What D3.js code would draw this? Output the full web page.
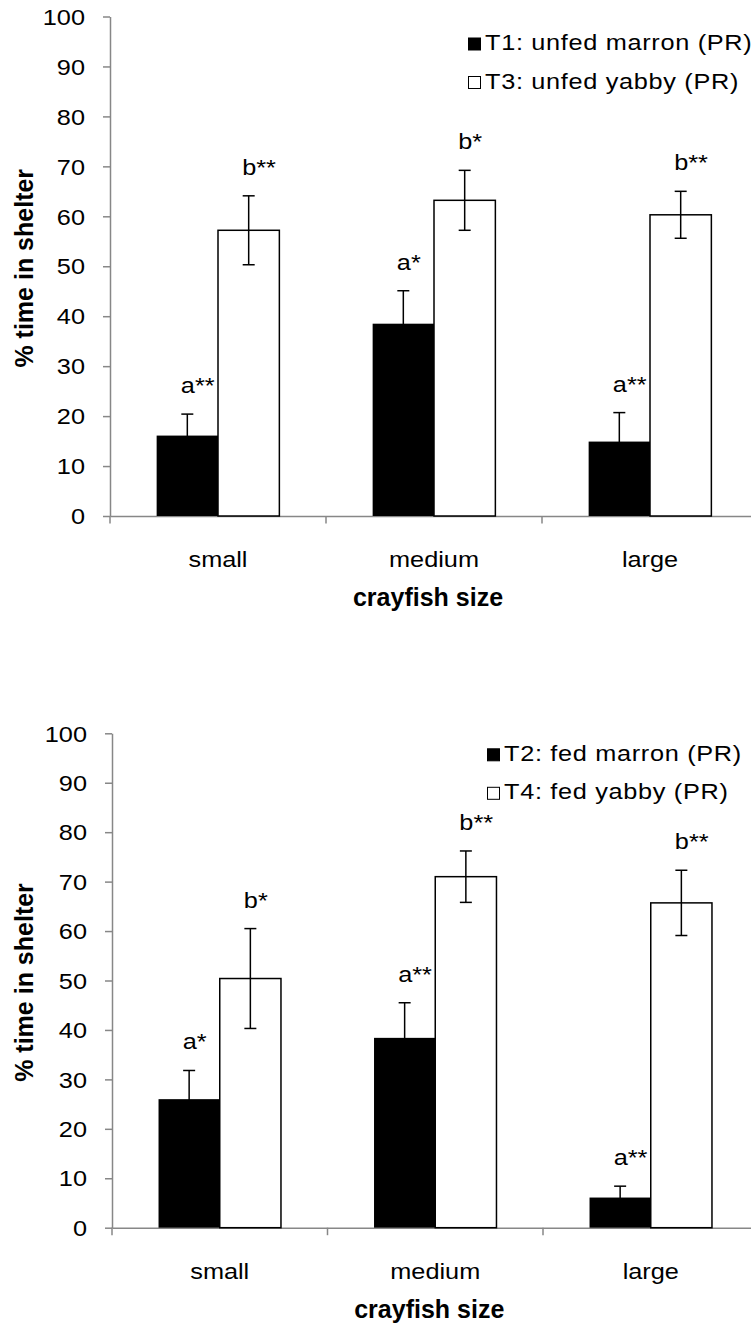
<!DOCTYPE html>
<html>
<head>
<meta charset="utf-8">
<script src="https://cdn.jsdelivr.net/npm/d3@7"></script>
<style>
  html, body { margin: 0; padding: 0; background: #fff; }
  svg { display: block; font-family: "Liberation Sans", Arial, sans-serif; }
</style>
</head>
<body>
<svg id="fig" width="751" height="1323"></svg>
<script>
// ---- data ----
const categories = ["small", "medium", "large"];
const yTicks = [0, 10, 20, 30, 40, 50, 60, 70, 80, 90, 100];

// unfed treatments
const unfedNames = ["T1: unfed marron (PR)", "T3: unfed yabby (PR)"];
const unfedMarron   = [16.1, 38.5, 14.9];
const unfedMarronSE = [4.3, 6.6, 5.8];
const unfedMarronSig = ["a**", "a*", "a**"];
const unfedYabby    = [57.2, 63.2, 60.3];
const unfedYabbySE  = [6.9, 6.0, 4.7];
const unfedYabbySig = ["b**", "b*", "b**"];

// fed treatments
const fedNames = ["T2: fed marron (PR)", "T4: fed yabby (PR)"];
const fedMarron   = [26.0, 38.4, 6.1];
const fedMarronSE = [5.8, 7.1, 2.3];
const fedMarronSig = ["a*", "a**", "a**"];
const fedYabby    = [50.4, 71.0, 65.7];
const fedYabbySE  = [10.1, 5.2, 6.6];
const fedYabbySig = ["b*", "b**", "b**"];

const yTitle = "% time in shelter";
const xTitle = "crayfish size";

// ---- layout ----
const SX = 1.15;               // horizontal stretch of regular text
const FONT = 22;
const AXIS_COLOR = "#878787";

const panels = [
  {
    top: 16.5, bottom: 516, left: 110, right: 758,
    legendX: 468, legendY: 37.5,
    names: unfedNames,
    series: [
      { values: unfedMarron, se: unfedMarronSE, sig: unfedMarronSig, fill: "#000" },
      { values: unfedYabby,  se: unfedYabbySE,  sig: unfedYabbySig,  fill: "#fff" }
    ]
  },
  {
    top: 733.3, bottom: 1227.7, left: 112, right: 758.5,
    legendX: 487, legendY: 748.3,
    names: fedNames,
    series: [
      { values: fedMarron, se: fedMarronSE, sig: fedMarronSig, fill: "#000" },
      { values: fedYabby,  se: fedYabbySE,  sig: fedYabbySig,  fill: "#fff" }
    ]
  }
];

const svg = d3.select("#fig");

function stretchedText(parent, x, y, str, anchor) {
  return parent.append("text")
    .attr("transform", `translate(${x},${y}) scale(${SX},1)`)
    .attr("text-anchor", anchor || "start")
    .attr("font-size", FONT)
    .attr("fill", "#000")
    .text(str);
}

panels.forEach(p => {
  const g = svg.append("g");

  const y = d3.scaleLinear().domain([0, 100]).range([p.bottom, p.top]);
  const x0 = d3.scaleBand().domain(categories).range([p.left, p.right]);
  const x1 = d3.scaleBand().domain([0, 1]).range([0, x0.bandwidth()])
    .paddingInner(0).paddingOuter(0.76);

  // y axis
  const yAxis = g.append("g")
    .attr("transform", `translate(${p.left},0)`)
    .call(d3.axisLeft(y).tickValues(yTicks).tickFormat(d3.format("d")).tickSize(7).tickSizeOuter(0));
  yAxis.select(".domain").attr("stroke", AXIS_COLOR).attr("stroke-width", 1.5);
  yAxis.selectAll(".tick line").attr("stroke", AXIS_COLOR).attr("stroke-width", 1.5);
  yAxis.selectAll(".tick text")
    .attr("x", null).attr("dy", "0.35em")
    .attr("transform", `translate(-25,0) scale(${SX},1)`)
    .attr("font-size", FONT).attr("font-family", null).attr("fill", "#000");

  // x axis: labels at category centres, ticks at category boundaries
  const xAxis = g.append("g")
    .attr("transform", `translate(0,${p.bottom})`)
    .call(d3.axisBottom(x0).tickSize(0).tickSizeOuter(0));
  xAxis.select(".domain").attr("stroke", AXIS_COLOR).attr("stroke-width", 1.5);
  xAxis.selectAll(".tick line").remove();
  xAxis.selectAll(".tick text")
    .attr("y", null).attr("dy", null)
    .attr("transform", `translate(0,51) scale(${SX},1)`)
    .attr("font-size", FONT).attr("font-family", null).attr("fill", "#000");
  const bounds = categories.map(c => x0(c)).concat([x0.range()[1]]);
  xAxis.selectAll("line.bound").data(bounds).join("line")
    .attr("class", "bound")
    .attr("x1", d => d).attr("x2", d => d)
    .attr("y1", 0).attr("y2", 7.5)
    .attr("stroke", AXIS_COLOR).attr("stroke-width", 1.5);

  // bars
  p.series.forEach((s, i) => {
    const bx = c => x0(c) + x1(i);
    g.append("g").selectAll("rect").data(categories).join("rect")
      .attr("x", c => bx(c))
      .attr("y", (c, k) => y(s.values[k]))
      .attr("width", x1.bandwidth())
      .attr("height", (c, k) => y(0) - y(s.values[k]))
      .attr("fill", s.fill)
      .attr("stroke", "#000")
      .attr("stroke-width", s.fill === "#000" ? 0 : 1.5);

    // error bars
    const eb = g.append("g").attr("stroke", "#000").attr("stroke-width", 1.5);
    categories.forEach((c, k) => {
      const cx = bx(c) + x1.bandwidth() / 2;
      const hi = y(s.values[k] + s.se[k]);
      const lo = y(s.values[k] - s.se[k]);
      eb.append("line").attr("x1", cx).attr("x2", cx).attr("y1", hi).attr("y2", lo);
      eb.append("line").attr("x1", cx - 6).attr("x2", cx + 6).attr("y1", hi).attr("y2", hi);
      eb.append("line").attr("x1", cx - 6).attr("x2", cx + 6).attr("y1", lo).attr("y2", lo);
      // significance letter
      stretchedText(g, cx - 6.5, hi - 21, s.sig[k], "start");
    });
  });

  // axis titles
  g.append("text")
    .attr("transform", `translate(33,${(p.top + p.bottom) / 2 + 2}) rotate(-90)`)
    .attr("text-anchor", "middle")
    .attr("font-size", 25).attr("font-weight", "bold")
    .text(yTitle);
  g.append("text")
    .attr("x", (p.left + p.right) / 2 - 6)
    .attr("y", p.bottom + 90)
    .attr("text-anchor", "middle")
    .attr("font-size", 25).attr("font-weight", "bold")
    .text(xTitle);

  // legend
  const lg = g.append("g").attr("transform", `translate(${p.legendX},${p.legendY})`);
  p.series.forEach((s, i) => {
    const row = lg.append("g").attr("transform", `translate(0,${i * 38.5})`);
    row.append("rect")
      .attr("x", 0.5).attr("y", 0.5).attr("width", 12).attr("height", 12)
      .attr("fill", s.fill).attr("stroke", "#000").attr("stroke-width", 1);
    stretchedText(row, 17, 12.5, p.names[i], "start").attr("letter-spacing", 0.6);
  });
});
</script>
</body>
</html>
